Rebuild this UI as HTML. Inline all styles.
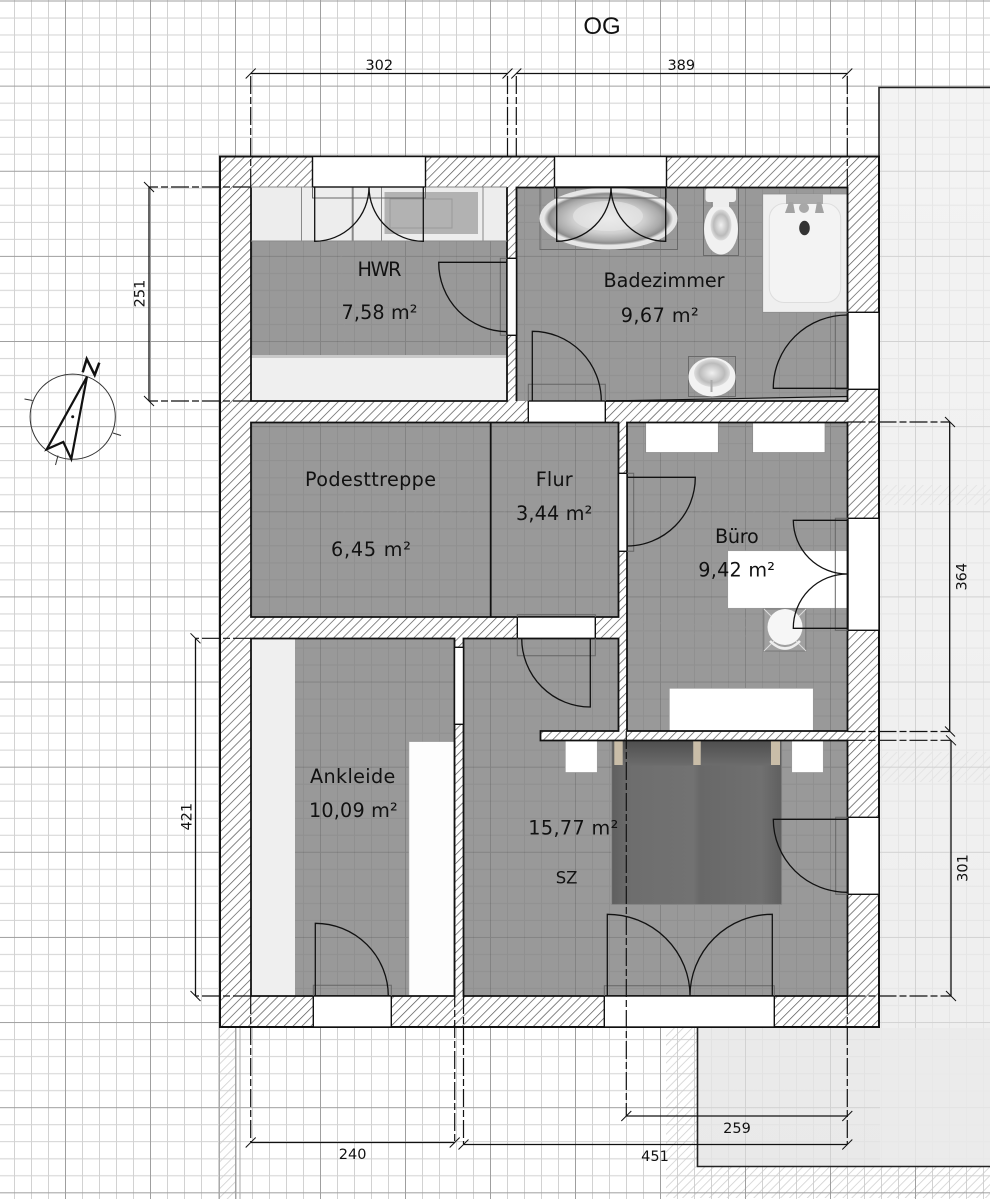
<!DOCTYPE html>
<html><head><meta charset="utf-8"><style>
html,body{margin:0;padding:0;background:#fff}
svg{display:block}
text{font-family:"DejaVu Sans","Liberation Sans",sans-serif;fill:#111}
.r{font-size:19.2px}.d{font-size:14.5px;text-anchor:middle}
.door{fill:none;stroke:#111;stroke-width:1.3}
.fr{fill:none;stroke:#666;stroke-width:1}
.op{fill:#fff;stroke:#111;stroke-width:1.4}
.dim{fill:none;stroke:#111;stroke-width:1.3}
.ext{fill:none;stroke:#111;stroke-width:1.2;stroke-dasharray:18 3 7 3}
</style></head><body>
<svg xmlns="http://www.w3.org/2000/svg" width="990" height="1199" viewBox="0 0 990 1199">
<defs>
<pattern id="g" patternUnits="userSpaceOnUse" x="65" y="0.5" width="85" height="85.13">
<path d="M17.5 0V86M34.5 0V86M51.5 0V86M68.5 0V86M0 17.5H85M0 34.5H85M0 51.6H85M0 68.6H85" stroke="#cdcdcd" stroke-width="1" fill="none"/>
<path d="M.5 0V86M0 .5H85" stroke="#949494" stroke-width="1" fill="none"/>
</pattern>
<pattern id="gd" patternUnits="userSpaceOnUse" x="65" y="0.5" width="85" height="85.13">
<path d="M17.5 0V86M34.5 0V86M51.5 0V86M68.5 0V86M0 17.5H85M0 34.5H85M0 51.6H85M0 68.6H85" stroke="#000" stroke-opacity=".06" stroke-width="1" fill="none"/>
<path d="M.5 0V86M0 .5H85" stroke="#000" stroke-opacity=".14" stroke-width="1" fill="none"/>
</pattern>
<pattern id="h" patternUnits="userSpaceOnUse" width="6.3" height="6.3" patternTransform="rotate(45)">
<rect width="6.3" height="6.3" fill="#fff"/><path d="M0 0V6.3" stroke="#555" stroke-width="1.4"/>
</pattern>
<pattern id="hf" patternUnits="userSpaceOnUse" width="6.3" height="6.3" patternTransform="rotate(45)">
<path d="M0 0V6.3" stroke="#999" stroke-opacity=".45" stroke-width="1.6"/>
</pattern>
<linearGradient id="gr" x1="0" y1="0" x2="0" y2="1"><stop offset="0" stop-color="#f4f4f4"/><stop offset="1" stop-color="#e8e8e8"/></linearGradient>
<radialGradient id="tub"><stop offset="0" stop-color="#f0f0f0"/><stop offset=".55" stop-color="#cfcfcf"/><stop offset=".8" stop-color="#aaa"/><stop offset=".92" stop-color="#8c8c8c"/><stop offset="1" stop-color="#eee"/></radialGradient>
<radialGradient id="bowl"><stop offset="0" stop-color="#f0f0f0"/><stop offset=".7" stop-color="#bbb"/><stop offset="1" stop-color="#ddd"/></radialGradient>
<linearGradient id="bed" x1="0" y1="0" x2="1" y2="0"><stop offset="0" stop-color="#5f5f5f"/><stop offset=".12" stop-color="#6e6e6e"/><stop offset=".48" stop-color="#727272"/><stop offset=".52" stop-color="#686868"/><stop offset=".88" stop-color="#707070"/><stop offset="1" stop-color="#5f5f5f"/></linearGradient>
<linearGradient id="pil" x1="0" y1="0" x2="0" y2="1"><stop offset="0" stop-color="#4e4e4e"/><stop offset="1" stop-color="#6c6c6c"/></linearGradient>
</defs>

<rect width="990" height="1199" fill="#fff"/>
<path d="M879 87.5H990V1166.5H697.5V1027H879Z" fill="url(#gr)"/>
<rect x="879" y="485" width="111" height="20" fill="url(#hf)"/>
<rect x="879" y="752" width="111" height="30" fill="url(#hf)"/>
<path d="M219 1027H236V1199H219Z" fill="url(#hf)"/>
<path d="M666 1027H697.5V1167H990V1198H666Z" fill="url(#hf)"/>
<rect width="990" height="1199" fill="url(#g)" opacity=".9"/>
<rect x="880" y="88" width="110" height="1078" fill="#f2f2f2" opacity=".62"/>
<rect x="698" y="1028" width="292" height="138" fill="#e9e9e9" opacity=".7"/>
<path d="M990 87.5H879V1027M697.5 1027V1166.5H990" fill="none" stroke="#222" stroke-width="1.6"/>
<path d="M236 1027V1199M240 1027V1199M219.5 1027V1199" stroke="#aaa" fill="none"/>

<rect x="220" y="156.5" width="659" height="870.5" fill="url(#h)" stroke="#111" stroke-width="2"/>

<path id="fl" d="M251 241H507V355H251ZM516.5 187.5H847.5V401H516.5ZM251 422.5H490.5V617H251ZM491 422.5H618.5V617H491ZM627 422.5H847.5V731H627ZM463.5 638.5H618.5V731H540.5V740.5H847.5V996H463.5ZM295 638.5H454.5V996H295Z" fill="#999"/>
<rect x="251" y="187" width="256" height="54" fill="#ededed"/>
<rect x="251" y="358" width="256" height="43" fill="#efefef"/>
<rect x="251" y="638.5" width="44" height="357.5" fill="#efefef"/>
<path d="M251 241H507V355H251ZM516.5 187.5H847.5V401H516.5ZM251 422.5H490.5V617H251ZM491 422.5H618.5V617H491ZM627 422.5H847.5V731H627ZM463.5 638.5H618.5V731H540.5V740.5H847.5V996H463.5ZM295 638.5H454.5V996H295Z" fill="url(#gd)"/>
<rect x="338" y="241" width="7" height="114" fill="url(#hf)"/>
<rect x="623" y="250" width="7" height="134" fill="url(#hf)"/>
<rect x="341" y="508" width="506" height="8" fill="url(#hf)"/>
<rect x="627" y="616" width="220" height="21" fill="url(#hf)"/>
<rect x="251" y="355" width="256" height="3" fill="#c9c9c9"/>

<path d="M301.5 187V241M381.5 187V241M483 187V241" stroke="#888" fill="none"/>
<path d="M352.7 187V241" stroke="#888" stroke-width="2" fill="none"/>
<rect x="384.5" y="192" width="93.5" height="42" fill="#b2b2b2"/>
<rect x="390" y="199" width="62" height="29" fill="none" stroke="#9a9a9a"/>

<rect x="540" y="187" width="137.5" height="62.5" fill="none" stroke="#6a6a6a"/>
<ellipse cx="608.5" cy="218.5" rx="69" ry="31" fill="#e6e6e6"/>
<ellipse cx="608.5" cy="218.5" rx="65" ry="27" fill="url(#tub)"/>
<ellipse cx="608" cy="216" rx="35" ry="15" fill="#e8e8e8" opacity=".6"/>
<rect x="703.5" y="187" width="35" height="68.5" fill="none" stroke="#6a6a6a"/>
<rect x="705.5" y="188" width="30.5" height="14" rx="3" fill="#eee"/>
<ellipse cx="721" cy="229" rx="17" ry="25.5" fill="#f1f1f1"/>
<ellipse cx="721" cy="225" rx="10.5" ry="15.5" fill="url(#bowl)"/>
<rect x="713" y="202" width="16" height="5" fill="#eee"/>
<rect x="762.7" y="194" width="85" height="118.3" fill="#efefef" stroke="#8d8d8d" stroke-width=".8"/>
<rect x="769.3" y="203.5" width="71.4" height="99" rx="15" fill="#f3f3f3" stroke="#ddd"/>
<rect x="786" y="194" width="37" height="10" fill="#aaa"/>
<path d="M785 213L789 202H793L795 213ZM815 213L817 202H821L824 213Z" fill="#a2a2a2"/>
<circle cx="804" cy="208" r="5" fill="#a8a8a8"/>
<ellipse cx="804.5" cy="228" rx="5.3" ry="7.3" fill="#333"/>
<rect x="688.5" y="356.5" width="47" height="40" fill="none" stroke="#6a6a6a"/>
<ellipse cx="712" cy="377" rx="23.5" ry="19.5" fill="#f2f2f2"/>
<ellipse cx="712" cy="373" rx="18" ry="14" fill="url(#bowl)"/>
<path d="M711.5 380V392" stroke="#aaa" stroke-width="2"/>
<path d="M605 401L847.5 396.5V401Z" fill="#bdbdbd"/>
<path d="M605 401L847.5 396.5" stroke="#111" stroke-width="1.2" fill="none"/>

<rect x="645.7" y="422.5" width="72.6" height="30" fill="#fff" stroke="#888" stroke-width=".7"/>
<rect x="752.7" y="422.5" width="72.3" height="30" fill="#fff" stroke="#888" stroke-width=".7"/>
<rect x="727.7" y="550.7" width="120" height="57.6" fill="#fff" stroke="#999" stroke-width=".7"/>
<rect x="763.8" y="609" width="42" height="42" fill="#a0a0a0" stroke="#777"/>
<path d="M764 609L806 651M806 609L764 651" stroke="#ddd" stroke-width="1"/>
<ellipse cx="785" cy="627" rx="17.5" ry="18" fill="#f6f6f6"/>
<path d="M770 641Q785 656 800 641" stroke="#eee" stroke-width="2.5" fill="none"/>
<rect x="669.3" y="688.3" width="144" height="43" fill="#fff" stroke="#999" stroke-width=".7"/>

<rect x="409" y="741.7" width="45.3" height="254.3" fill="#fdfdfd" stroke="#aaa" stroke-width=".5"/>

<rect x="611.7" y="740.5" width="170" height="164" fill="url(#bed)" stroke="#888" stroke-width=".8"/>
<rect x="621" y="740.5" width="72" height="25" fill="url(#pil)"/>
<rect x="701" y="740.5" width="70" height="25" fill="url(#pil)"/>
<rect x="614.3" y="741" width="8.4" height="24" fill="#c9bda8"/>
<rect x="693.3" y="741" width="7.4" height="24" fill="#c9bda8"/>
<rect x="771" y="741" width="9" height="24" fill="#c9bda8"/>
<rect x="565.3" y="740.5" width="32" height="32" fill="#fff" stroke="#999" stroke-width=".7"/>
<rect x="791.7" y="740.5" width="31.6" height="32" fill="#fff" stroke="#999" stroke-width=".7"/>

<g fill="none" stroke="#111" stroke-width="1.8">
<path d="M251 187V401H507V187"/>
<path d="M516.5 401V187.5H847.5V401H605"/>
<path d="M251 422.5H618.5V617H251ZM490.7 422.5V617"/>
<path d="M627 731V422.5H847.5V731H627"/>
<path d="M463.5 996V638.5H618.5V731H540.5V740.5H847.5V996Z"/>
<path d="M251 638.5H454.5V996H251Z"/>
</g>
<path d="M251 187H507" stroke="#888" fill="none"/>
<path d="M251 241H507" stroke="#8a8a8a" fill="none"/>

<rect class="op" x="312.5" y="156.5" width="113" height="30.5"/>
<rect class="op" x="554.5" y="156.5" width="112" height="30.5"/>
<rect class="op" x="507" y="258.3" width="9.5" height="77"/>
<rect class="op" x="848" y="312.3" width="31" height="77"/>
<rect class="op" x="528.3" y="401" width="77" height="21.3"/>
<rect class="op" x="618.5" y="473.3" width="8.5" height="78"/>
<rect class="op" x="848" y="518.3" width="31" height="112"/>
<rect class="op" x="517.3" y="617" width="78" height="21.3"/>
<rect class="op" x="454.5" y="647.3" width="9" height="77"/>
<rect class="op" x="848" y="817.3" width="31" height="77"/>
<rect class="op" x="313.3" y="996" width="78" height="31"/>
<rect class="op" x="604.3" y="996" width="170" height="31"/>

<path class="fr" d="M312.5 187V198H425.5V187"/>
<path class="fr" d="M554.5 187V198H666.5V187"/>
<path class="fr" d="M507 258.3H500.3V335.3H507"/>
<path class="fr" d="M848 312.3H835.3V389.3H848"/>
<path class="fr" d="M528.3 401V384.3H605.3V401"/>
<path class="fr" d="M627 473.3H633.7V551.3H627"/>
<path class="fr" d="M848 518.3H835.3V630.3H848"/>
<path class="fr" d="M517.3 617V614.7H595.3V617M517.3 638.3V655.7H595.3V638.3"/>
<path class="fr" d="M848 817.3H835.7V894.3H848"/>
<path class="fr" d="M313.3 996V985.3H391.3V996"/>
<path class="fr" d="M604.3 996V985.7H774.3V996"/>

<path class="door" d="M314.7 187V241.3A54.5 54.5 0 0 0 369 187A54.5 54.5 0 0 0 423.3 241.3V187"/>
<path class="door" d="M507 262.3H438.7A69 69 0 0 0 507 331.7"/>
<path class="door" d="M556.7 187V241.3A54.3 54.3 0 0 0 611 187A54.7 54.7 0 0 0 665.7 241.3V187"/>
<path class="door" d="M847.7 388.3H773.3A74 73 0 0 1 847.7 315"/>
<path class="door" d="M532.3 401V331.3A69 69.7 0 0 1 601.3 401"/>
<path class="door" d="M626.7 477.3H695.3A68.6 68.7 0 0 1 626.7 546"/>
<path class="door" d="M847.3 520.3H793.3A54 54 0 0 0 847.3 574A54 54 0 0 0 793.3 628.3H847.3"/>
<path class="door" d="M590.3 638.3V707A68.6 68.7 0 0 1 521.7 638.3"/>
<path class="door" d="M315.3 996V923.3A73 72.7 0 0 1 388.3 996"/>
<path class="door" d="M607.3 996V914.3A82.7 81.7 0 0 1 690 996A82.3 81.7 0 0 1 772.3 914.3V996"/>
<path class="door" d="M847.3 819.3H773.3A74 73 0 0 0 847.3 892.3"/>

<g class="ext">
<path class="ext" d="M250.7 187V73.5"/>
<path class="ext" d="M507.5 156V73.5"/>
<path class="ext" d="M516.3 156V73.5"/>
<path class="ext" d="M847.3 187V73.5"/>
<path class="ext" d="M251 187H149"/>
<path class="ext" d="M251 401H149"/>
<path class="ext" d="M251 638.3H195.5"/>
<path class="ext" d="M251 996H195.5"/>
<path class="ext" d="M847.5 422H950"/>
<path class="ext" d="M847.5 731.5H950"/>
<path class="ext" d="M847.5 740.3H951"/>
<path class="ext" d="M847.5 996H951"/>
<path class="ext" d="M250.7 996V1142"/>
<path class="ext" d="M454.7 741V1142"/>
<path class="ext" d="M463.5 996V1144"/>
<path class="ext" d="M626.3 731V1116"/>
<path class="ext" d="M847.3 996V1144"/>
</g>

<g class="dim">
<path d="M250.7 73.5H507.5M516.3 73.5H847.3"/>
<path d="M149 187V401M195.5 638.3V996"/>
<path d="M949.7 422V731.5M951 740.3V996"/>
<path d="M250.7 1142.5H454.7M463.5 1144.5H847.3M626.3 1116H847.3"/>
<path stroke-width="1" d="M245.7 78.5L255.7 68.5M502.5 78.5L512.5 68.5M511.3 78.5L521.3 68.5M842.3 78.5L852.3 68.5"/>
<path stroke-width="1" d="M144 182L154 192M144 396L154 406M190.5 633.3L200.5 643.3M190.5 991L200.5 1001"/>
<path stroke-width="1" d="M945 417L955 427M945 726.5L955 736.5M946 735.3L956 745.3M946 991L956 1001"/>
<path stroke-width="1" d="M245.7 1147.5L255.7 1137.5M449.7 1147.5L459.7 1137.5M458.5 1149.5L468.5 1139.5M842.3 1149.5L852.3 1139.5M621.3 1121L631.3 1111M842.3 1121L852.3 1111"/>
</g>

<circle cx="72.7" cy="416.7" r="42.6" fill="none" stroke="#333" stroke-width="1"/>
<path d="M87 376.7L46.7 449.3L63.3 442L71.3 459Z" fill="none" stroke="#111" stroke-width="2.2" stroke-linejoin="miter"/>
<circle cx="72.7" cy="416.7" r="1.5" fill="#111"/>
<path d="M82.7 372.3L86.7 359L94.7 375L99.3 362.7" fill="none" stroke="#111" stroke-width="2.5"/>
<path d="M32.5 400.5L24.5 399M113 433L121 435.5M58 455.5L55.5 465" fill="none" stroke="#333" stroke-width="1"/>

<text x="602" y="34" text-anchor="middle" style="font-family:'Liberation Sans',sans-serif;font-size:24px">OG</text>
<text class="d" x="379.3" y="70">302</text>
<text class="d" x="681.3" y="70">389</text>
<text class="d" x="352.6" y="1159">240</text>
<text class="d" x="655" y="1161">451</text>
<text class="d" x="737" y="1133">259</text>
<text class="d" transform="translate(144.5 293.5) rotate(-90)">251</text>
<text class="d" transform="translate(191.5 816.7) rotate(-90)">421</text>
<text class="d" transform="translate(966.5 576.7) rotate(-90)">364</text>
<text class="d" transform="translate(967.5 868) rotate(-90)">301</text>

<text class="r" x="357.5" y="276" textLength="44" lengthAdjust="spacing">HWR</text>
<text class="r" x="341.5" y="319" textLength="76" lengthAdjust="spacing">7,58 m²</text>
<text class="r" x="603.5" y="287" textLength="121" lengthAdjust="spacing">Badezimmer</text>
<text class="r" x="620.7" y="322" textLength="78" lengthAdjust="spacing">9,67 m²</text>
<text class="r" x="305" y="486" textLength="131" lengthAdjust="spacing">Podesttreppe</text>
<text class="r" x="331" y="556" textLength="80" lengthAdjust="spacing">6,45 m²</text>
<text class="r" x="535.7" y="486" textLength="37" lengthAdjust="spacing">Flur</text>
<text class="r" x="516" y="520" textLength="76.3" lengthAdjust="spacing">3,44 m²</text>
<text class="r" x="715" y="543" textLength="43.7" lengthAdjust="spacing">Büro</text>
<text class="r" x="698.3" y="576.7" textLength="76.7" lengthAdjust="spacing">9,42 m²</text>
<text class="r" x="310" y="783" textLength="85.3" lengthAdjust="spacing">Ankleide</text>
<text class="r" x="309" y="817" textLength="88.7" lengthAdjust="spacing">10,09 m²</text>
<text class="r" x="528.3" y="834.3" textLength="90" lengthAdjust="spacing">15,77 m²</text>
<text x="555.7" y="883.7" style="font-size:16.5px">SZ</text>
</svg>
</body></html>
